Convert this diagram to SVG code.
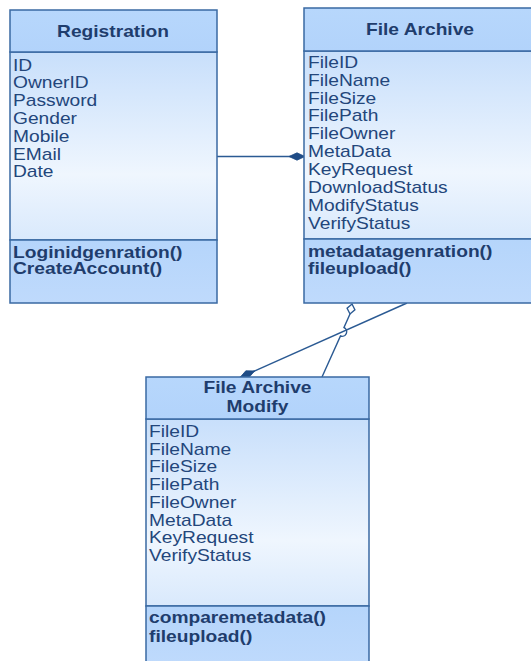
<svg xmlns="http://www.w3.org/2000/svg" width="531" height="661" viewBox="0 0 531 661">
<defs>
<linearGradient id="gHead" x1="0" y1="0" x2="0" y2="1">
<stop offset="0" stop-color="#b7d7fc"/><stop offset="1" stop-color="#b2d3fb"/>
</linearGradient>
<linearGradient id="gAttr" x1="0" y1="0" x2="0" y2="1">
<stop offset="0" stop-color="#c8dffb"/><stop offset="0.65" stop-color="#eff6fe"/><stop offset="1" stop-color="#d9e9fc"/>
</linearGradient>
<linearGradient id="gMeth" x1="0" y1="0" x2="0" y2="1">
<stop offset="0" stop-color="#b5d5fb"/><stop offset="1" stop-color="#bfdafc"/>
</linearGradient>
<marker id="filledDiamond" markerUnits="userSpaceOnUse" viewBox="0 0 18 9" markerWidth="18" markerHeight="9" refX="17" refY="4.5" orient="auto">
<path d="M1,4.5 L9,0.8 L17,4.5 L9,8.2 Z" fill="#1f4c86" stroke="#1f4c86" stroke-width="0.8"/>
</marker>
<style>
.head{fill:url(#gHead);stroke:#3a69a3;stroke-width:1.5}
.attr{fill:url(#gAttr);stroke:#3a69a3;stroke-width:1.5}
.meth{fill:url(#gMeth);stroke:#3a69a3;stroke-width:1.5}
.t{font-family:"Liberation Sans",Arial,sans-serif;font-size:16px;fill:#23467b}
.b{font-family:"Liberation Sans",Arial,sans-serif;font-size:16px;font-weight:bold;fill:#1f3d6d}
.c{text-anchor:middle}
.conn{fill:none;stroke:#2b5a93;stroke-width:1.4}
</style>
</defs>

<g id="connectors">
<path class="conn" d="M217,156.5 L305,156.5" marker-end="url(#filledDiamond)"/>
<path class="conn" d="M407,303 L240,377.5" marker-end="url(#filledDiamond)"/>
<path class="conn" d="M350,314 L344,327.5 A4.6,4.6 0 0 1 340.5,336 L322,377"/>
<polygon points="352,304 354.9,309.8 350,314 347.1,308.2" fill="#ffffff" stroke="#2b5a93" stroke-width="1.4"/>
</g>

<g id="registration">
<rect class="attr" x="10" y="52" width="207" height="188"/>
<rect class="meth" x="10" y="240" width="207" height="63"/>
<rect class="head" x="10" y="10" width="207" height="42"/>
<text class="b c" transform="translate(113,36.5) scale(1.2,1)">Registration</text>
<text class="t" transform="translate(13,70.5) scale(1.2,1)">ID</text>
<text class="t" transform="translate(13,88.3) scale(1.2,1)">OwnerID</text>
<text class="t" transform="translate(13,106.1) scale(1.2,1)">Password</text>
<text class="t" transform="translate(13,123.9) scale(1.2,1)">Gender</text>
<text class="t" transform="translate(13,141.7) scale(1.2,1)">Mobile</text>
<text class="t" transform="translate(13,159.5) scale(1.2,1)">EMail</text>
<text class="t" transform="translate(13,177.3) scale(1.2,1)">Date</text>
<text class="b" transform="translate(13,257.5) scale(1.2,1)">Loginidgenration()</text>
<text class="b" transform="translate(13,274) scale(1.2,1)">CreateAccount()</text>
</g>

<g id="file-archive">
<rect class="attr" x="304" y="51" width="232" height="188"/>
<rect class="meth" x="304" y="239" width="232" height="64"/>
<rect class="head" x="304" y="8" width="232" height="43"/>
<text class="b c" transform="translate(420,35) scale(1.2,1)">File Archive</text>
<text class="t" transform="translate(308,67.7) scale(1.2,1)">FileID</text>
<text class="t" transform="translate(308,85.6) scale(1.2,1)">FileName</text>
<text class="t" transform="translate(308,103.5) scale(1.2,1)">FileSize</text>
<text class="t" transform="translate(308,121.4) scale(1.2,1)">FilePath</text>
<text class="t" transform="translate(308,139.3) scale(1.2,1)">FileOwner</text>
<text class="t" transform="translate(308,157.2) scale(1.2,1)">MetaData</text>
<text class="t" transform="translate(308,175.1) scale(1.2,1)">KeyRequest</text>
<text class="t" transform="translate(308,193) scale(1.2,1)">DownloadStatus</text>
<text class="t" transform="translate(308,210.9) scale(1.2,1)">ModifyStatus</text>
<text class="t" transform="translate(308,228.8) scale(1.2,1)">VerifyStatus</text>
<text class="b" transform="translate(308,257) scale(1.2,1)">metadatagenration()</text>
<text class="b" transform="translate(308,274) scale(1.2,1)">fileupload()</text>
</g>

<g id="file-archive-modify">
<rect class="attr" x="146" y="419" width="223" height="187"/>
<rect class="meth" x="146" y="606" width="223" height="60"/>
<rect class="head" x="146" y="377" width="223" height="42"/>
<text class="b c" transform="translate(257.5,392.5) scale(1.2,1)">File Archive</text>
<text class="b c" transform="translate(257.5,411.5) scale(1.2,1)">Modify</text>
<text class="t" transform="translate(149,437) scale(1.2,1)">FileID</text>
<text class="t" transform="translate(149,454.7) scale(1.2,1)">FileName</text>
<text class="t" transform="translate(149,472.4) scale(1.2,1)">FileSize</text>
<text class="t" transform="translate(149,490.1) scale(1.2,1)">FilePath</text>
<text class="t" transform="translate(149,507.8) scale(1.2,1)">FileOwner</text>
<text class="t" transform="translate(149,525.5) scale(1.2,1)">MetaData</text>
<text class="t" transform="translate(149,543.2) scale(1.2,1)">KeyRequest</text>
<text class="t" transform="translate(149,560.9) scale(1.2,1)">VerifyStatus</text>
<text class="b" transform="translate(149,622.7) scale(1.2,1)">comparemetadata()</text>
<text class="b" transform="translate(149,641.5) scale(1.2,1)">fileupload()</text>
</g>
</svg>
